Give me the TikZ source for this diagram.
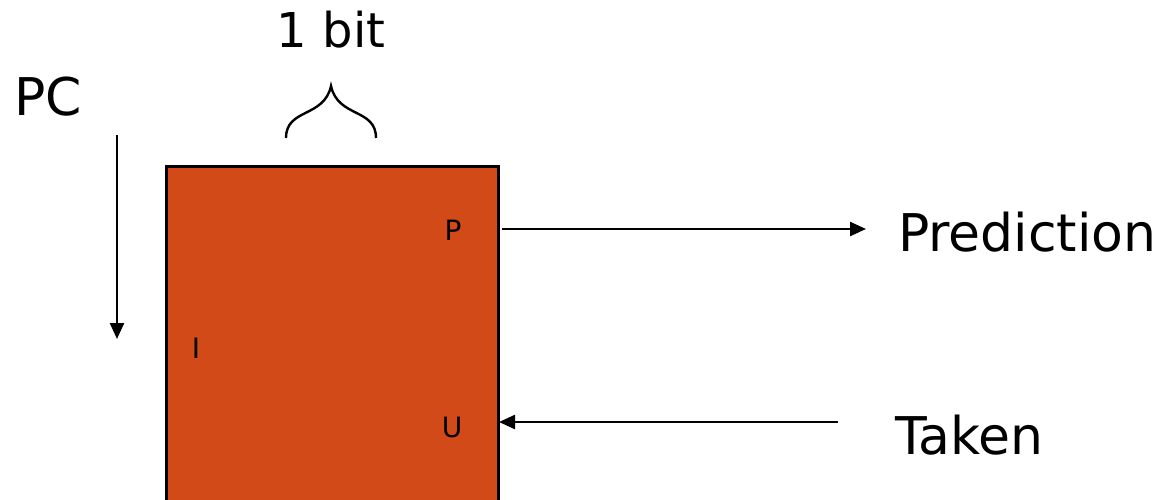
\documentclass[tikz,border=0pt]{standalone}
\usepackage{fontspec}
\setmainfont{DejaVu Sans}
\usetikzlibrary{arrows.meta}
\definecolor{tableorange}{RGB}{210,74,23}

\begin{document}
\begin{tikzpicture}[x=0.5pt,y=-0.5pt,
                >={Triangle[length=8pt,width=7pt]},
                line width=1.2pt,
                big/.style = {font=\fontsize{26}{31}\selectfont, inner sep=0pt},
                small/.style = {font=\fontsize{14}{17}\selectfont, inner sep=0pt}]
            \useasboundingbox (0,0) rectangle (1165,499);
            \clip (0,0) rectangle (1165,499);
            % Table
            \node[draw, fill=tableorange, minimum width=166pt, minimum height=187pt,
                  inner sep=0pt, line width=1.5pt] (table) at (332,353) {};
            \node[small] (p) at (453,230) {P};
            \node[small] (u) at (452,427) {U};
            \node[small] (i) at (196,348) {I};

            % Labels
            \node[big] (pc) at (48,97) {PC};
            \node[big, font=\fontsize{24}{29}\selectfont] (bit) at (331,30) {1 bit};
            \node[big, anchor=west] (pred) at (897,232) {Prediction};
            \node[big, anchor=west] (taken) at (894,435) {Taken};

            \coordinate (pctop) at (117,135);
            \coordinate (pcbot) at (117,339);
            \coordinate (predout) at (502,229);
            \coordinate (predtip) at (866,229);
            \coordinate (takenin) at (838,422);
            \coordinate (takentip) at (499,422);

            % Brace
            \draw (286,138) .. controls (286,108) and (324,118) .. (331,86)
                  .. controls (338,118) and (376,108) .. (376,138);

            % Arrows
            \draw[->] (pctop) -- (pcbot);
            \draw[->] (predout) -- (predtip);
            \draw[->] (takenin) -- (takentip);
        \end{tikzpicture}
\end{document}
